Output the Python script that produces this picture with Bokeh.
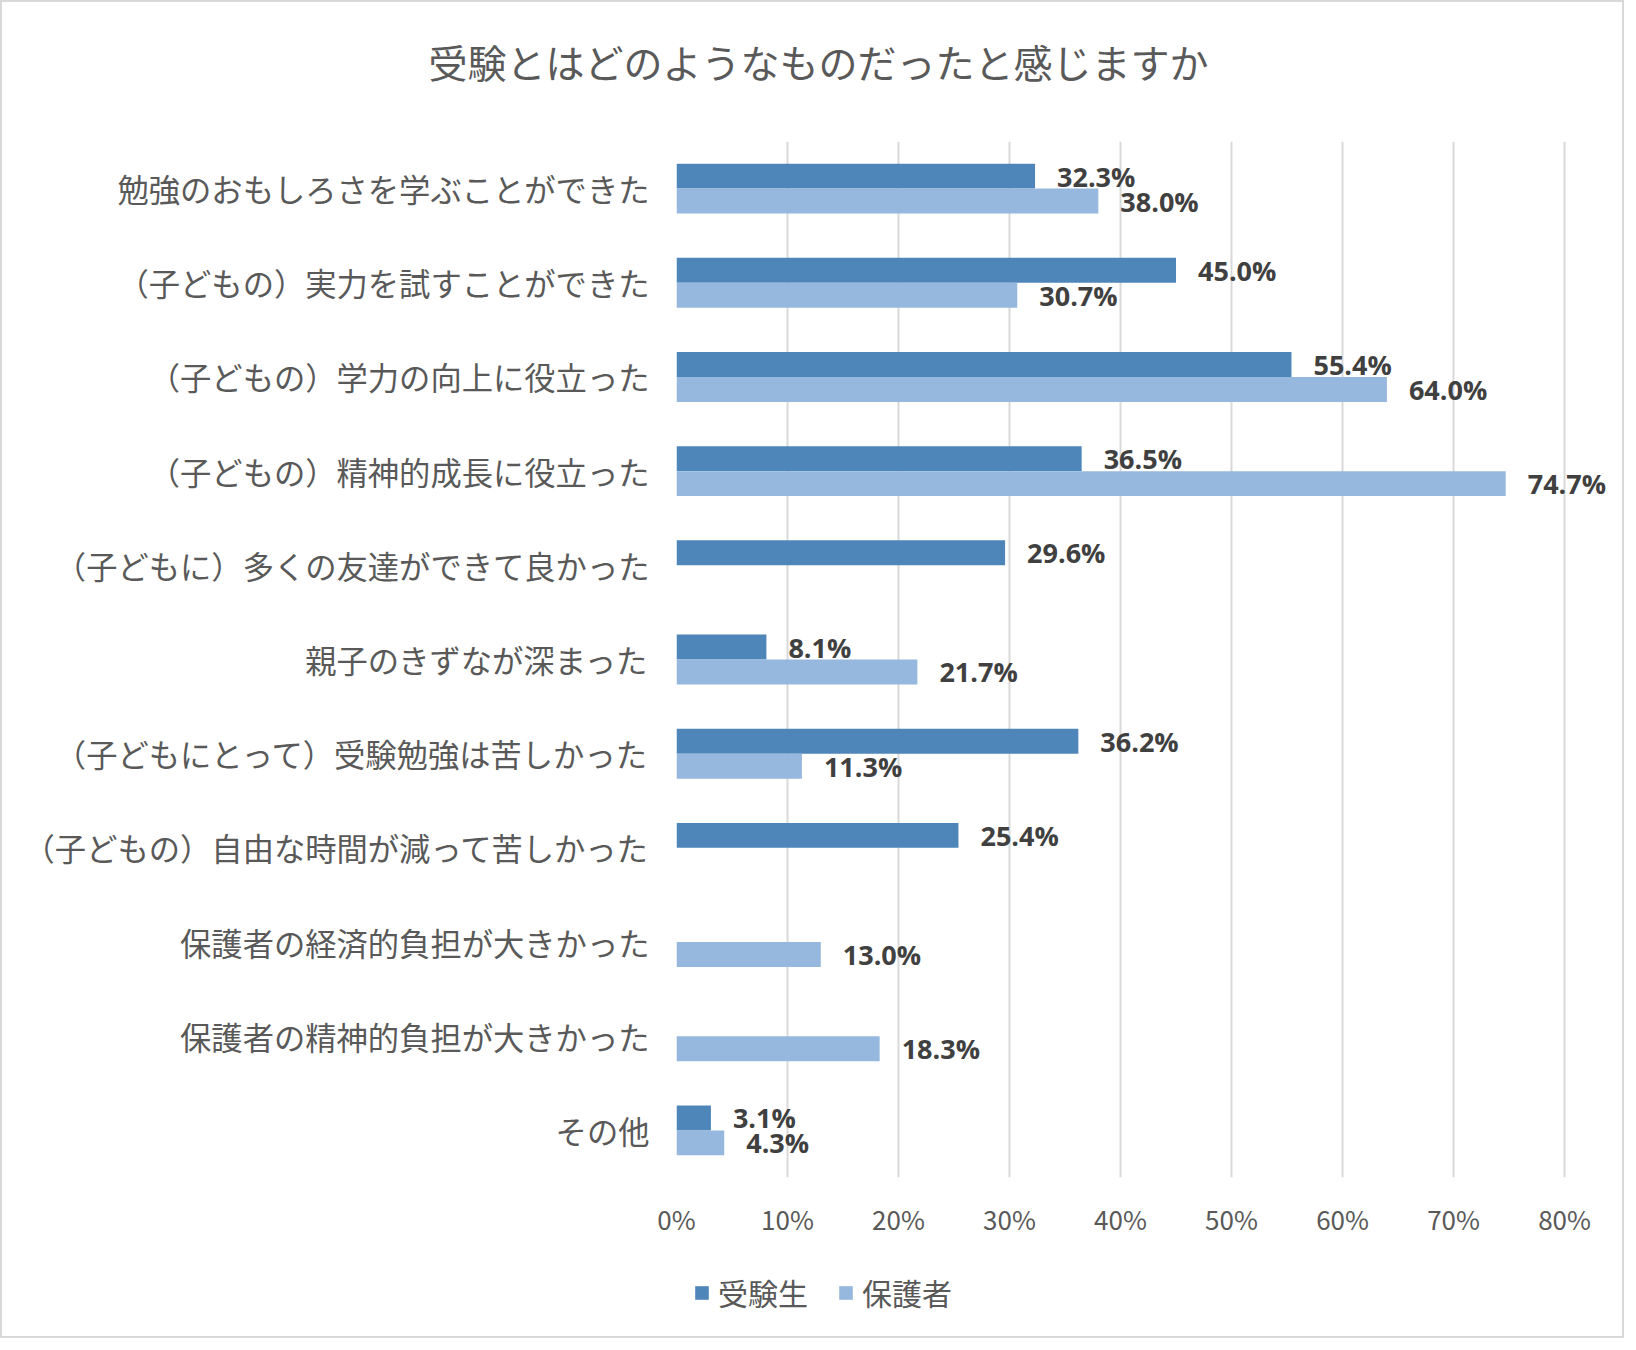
from bokeh.plotting import figure
from bokeh.layouts import column
from bokeh.models import (FactorRange, Range1d, ColumnDataSource, LabelSet, Legend,
                          LegendItem, FixedTicker, NumeralTickFormatter, Title)
from bokeh.core.properties import value
from bokeh.transform import dodge
from bokeh.embed import file_html
from bokeh.resources import INLINE

title_text = "受験とはどのようなものだったと感じますか"
categories = [
    "勉強のおもしろさを学ぶことができた",
    "（子どもの）実力を試すことができた",
    "（子どもの）学力の向上に役立った",
    "（子どもの）精神的成長に役立った",
    "（子どもに）多くの友達ができて良かった",
    "親子のきずなが深まった",
    "（子どもにとって）受験勉強は苦しかった",
    "（子どもの）自由な時間が減って苦しかった",
    "保護者の経済的負担が大きかった",
    "保護者の精神的負担が大きかった",
    "その他",
]
series_names = ["受験生", "保護者"]
students = [32.3, 45.0, 55.4, 36.5, 29.6, 8.1, 36.2, 25.4, None, None, 3.1]
parents = [38.0, 30.7, 64.0, 74.7, None, 21.7, 11.3, None, 13.0, 18.3, 4.3]
tick_values = [0.0, 0.1, 0.2, 0.3, 0.4, 0.5, 0.6, 0.7, 0.8]

colors = ["#4F86BA", "#96B8DE"]
FONT_JP = "Noto Sans CJK JP"
GREY = "#595959"

W = 1620
MAIN_H = 1237
LEG_H = 97


def make_source(vals):
    c, v, lab = [], [], []
    for cat, val in zip(categories, vals):
        if val is None:
            continue
        c.append(cat)
        v.append(val / 100.0)
        lab.append(f"{val:.1f}%")
    return ColumnDataSource(dict(cat=c, val=v, lab=lab))


p = figure(width=W, height=MAIN_H,
           y_range=FactorRange(*categories[::-1]),
           x_range=Range1d(0, 0.8378),
           output_backend="svg", toolbar_location=None,
           min_border_left=674, min_border_right=16,
           min_border_top=139, min_border_bottom=60)

p.title.text = ""
# spacer (closest to the frame), then the real title above it
p.add_layout(Title(text=" ", text_font_size="2px", standoff=49), "above")
p.add_layout(Title(text=title_text, text_font=FONT_JP, text_font_size="39px",
                   text_font_style="normal", text_color=GREY, align="left",
                   offset=-248, standoff=0), "above")

p.outline_line_color = None
p.background_fill_color = "white"
p.border_fill_color = "white"

half = 0.1325
bar_h = 0.265
sources = []
for vals, off, col in [(students, half, colors[0]), (parents, -half, colors[1])]:
    src = make_source(vals)
    sources.append((src, off, col))
    p.hbar(y=dodge("cat", off, range=p.y_range), left=0, right="val",
           height=bar_h, source=src, fill_color=col, line_color=None)
    labels = LabelSet(x="val", y=dodge("cat", off, range=p.y_range), text="lab",
                      source=src, x_offset=22, text_align="left",
                      text_baseline="middle", text_font=value("Open Sans"),
                      text_font_style="bold", text_font_size="27px",
                      text_color="#404040")
    p.add_layout(labels)

# x axis
p.xaxis.ticker = FixedTicker(ticks=tick_values)
p.xaxis.formatter = NumeralTickFormatter(format="0%")
p.xaxis.axis_line_color = None
p.xaxis.major_tick_line_color = None
p.xaxis.minor_tick_line_color = None
p.xaxis.major_tick_out = 0
p.xaxis.major_tick_in = 0
p.xaxis.minor_tick_out = 0
p.xaxis.major_label_text_font = FONT_JP
p.xaxis.major_label_text_font_size = "26px"
p.xaxis.major_label_text_color = GREY
p.xaxis.major_label_standoff = 22

# y axis
p.yaxis.axis_line_color = None
p.yaxis.major_tick_line_color = None
p.yaxis.minor_tick_line_color = None
p.yaxis.major_tick_out = 0
p.yaxis.major_tick_in = 0
p.yaxis.minor_tick_out = 0
p.yaxis.major_label_text_font = FONT_JP
p.yaxis.major_label_text_font_size = "31.3px"
p.yaxis.major_label_text_color = GREY
p.yaxis.major_label_standoff = 27

p.xgrid.grid_line_color = "#D9D9D9"
p.xgrid.grid_line_width = 2
p.ygrid.grid_line_color = None

# legend strip (separate figure under the axis; its frame is aligned with the main frame)
pl = figure(width=W, height=LEG_H, y_range=FactorRange(*categories[::-1]),
            x_range=Range1d(0, 0.8378),
            output_backend="svg", toolbar_location=None,
            min_border_left=0, min_border_right=0, min_border_top=0,
            min_border_bottom=0, x_axis_location=None, y_axis_location=None)
pl.outline_line_color = None
pl.grid.grid_line_color = None
pl.border_fill_color = "white"
leg_renderers = []
for src, off, col in sources:
    r = pl.hbar(y=dodge("cat", off, range=pl.y_range), left=0, right="val",
                height=bar_h, source=src, fill_color=col, line_color=None,
                visible=False)
    leg_renderers.append(r)

legend = Legend(items=[LegendItem(label=series_names[0], renderers=[leg_renderers[0]]),
                       LegendItem(label=series_names[1], renderers=[leg_renderers[1]])],
                orientation="horizontal", location=(17, 22),
                glyph_width=17, glyph_height=17, label_standoff=8, spacing=29,
                label_text_font=FONT_JP, label_text_font_size="30px",
                label_text_color=GREY, border_line_color=None,
                background_fill_alpha=0, margin=0, padding=0)
pl.add_layout(legend)

layout = column(p, pl, spacing=0, styles={"border": "2px solid #D9D9D9"})

open("out.html", "w").write(file_html(layout, INLINE))
